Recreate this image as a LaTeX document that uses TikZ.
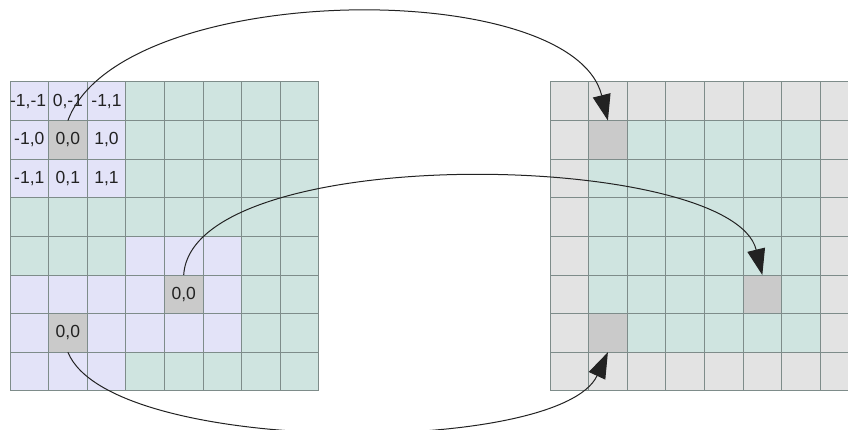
\documentclass[tikz,border=0pt]{standalone}
\usepackage{fontspec}
\setmainfont{Liberation Sans}
\usetikzlibrary{arrows.meta}
\definecolor{lav}{HTML}{E3E3F8}
\definecolor{tealc}{HTML}{CFE4E0}
\definecolor{cellgray}{HTML}{CACACA}
\definecolor{bggray}{HTML}{E3E3E3}
\definecolor{gridc}{HTML}{7E8C8A}
\definecolor{ink}{HTML}{222222}
\begin{document}
\begin{tikzpicture}[x=1pt,y=-1pt,
  font=\fontsize{17.5}{20}\selectfont,
  gridline/.style={draw=gridc, line width=1pt},
  graycell/.style={minimum size=38.6pt, inner sep=0pt, outer sep=0pt, draw=gridc, line width=1pt, fill=cellgray, text=ink},
  lbl/.style={inner sep=0pt, text=ink},
  conn/.style={draw=ink, line width=1pt, -{Triangle[length=26pt,width=18pt]}}]
\useasboundingbox (0,0) rectangle (848,430);
\fill[white] (0,0) rectangle (848,430);
\clip (0,0) rectangle (848,430);
% left grid
\begin{scope}[shift={(10pt,-82pt)}, x=38.6pt, y=-38.6pt]
  \fill[tealc] (0,0) rectangle (8,8);
  \fill[lav] (0,0) rectangle (3,3);
  \fill[lav] (3,4) rectangle (6,5);
  \fill[lav] (0,5) rectangle (6,7);
  \fill[lav] (0,7) rectangle (3,8);
  \foreach \i in {0,...,8} {
    \draw[gridline] (\i,0) -- (\i,8);
    \draw[gridline] (0,\i) -- (8,\i);
  }
  \node[graycell] (L11) at (1.5,1.5) {0,0};
  \node[graycell] (L54) at (4.5,5.5) {0,0};
  \node[graycell] (L61) at (1.5,6.5) {0,0};
  \node[lbl] (l00) at (0.47,0.5) {-1,-1};
  \node[lbl] (l01) at (1.5,0.5) {0,-1};
  \node[lbl] (l02) at (2.5,0.5) {-1,1};
  \node[lbl] (l10) at (0.5,1.5) {-1,0};
  \node[lbl] (l12) at (2.5,1.5) {1,0};
  \node[lbl] (l20) at (0.5,2.5) {-1,1};
  \node[lbl] (l21) at (1.5,2.5) {0,1};
  \node[lbl] (l22) at (2.5,2.5) {1,1};
\end{scope}
% right grid
\begin{scope}[shift={(550pt,-82pt)}, x=38.6pt, y=-38.6pt]
  \fill[bggray] (0,0) rectangle (8,8);
  \fill[tealc] (1,1) rectangle (7,7);
  \foreach \i in {0,...,8} {
    \draw[gridline] (\i,0) -- (\i,8);
    \draw[gridline] (0,\i) -- (8,\i);
  }
  \node[graycell] (R11) at (1.5,1.5) {};
  \node[graycell] (R55) at (5.5,5.5) {};
  \node[graycell] (R61) at (1.5,6.5) {};
\end{scope}
% connectors
\draw[conn] (L11.north) .. controls (120,-20) and (572,-25) .. (R11.north);
\draw[conn] (L54.north) .. controls (192,140) and (732,150) .. (R55.north);
\draw[conn] (L61.south) .. controls (110,456) and (560,456) .. (R61.south);
\end{tikzpicture}
\end{document}
